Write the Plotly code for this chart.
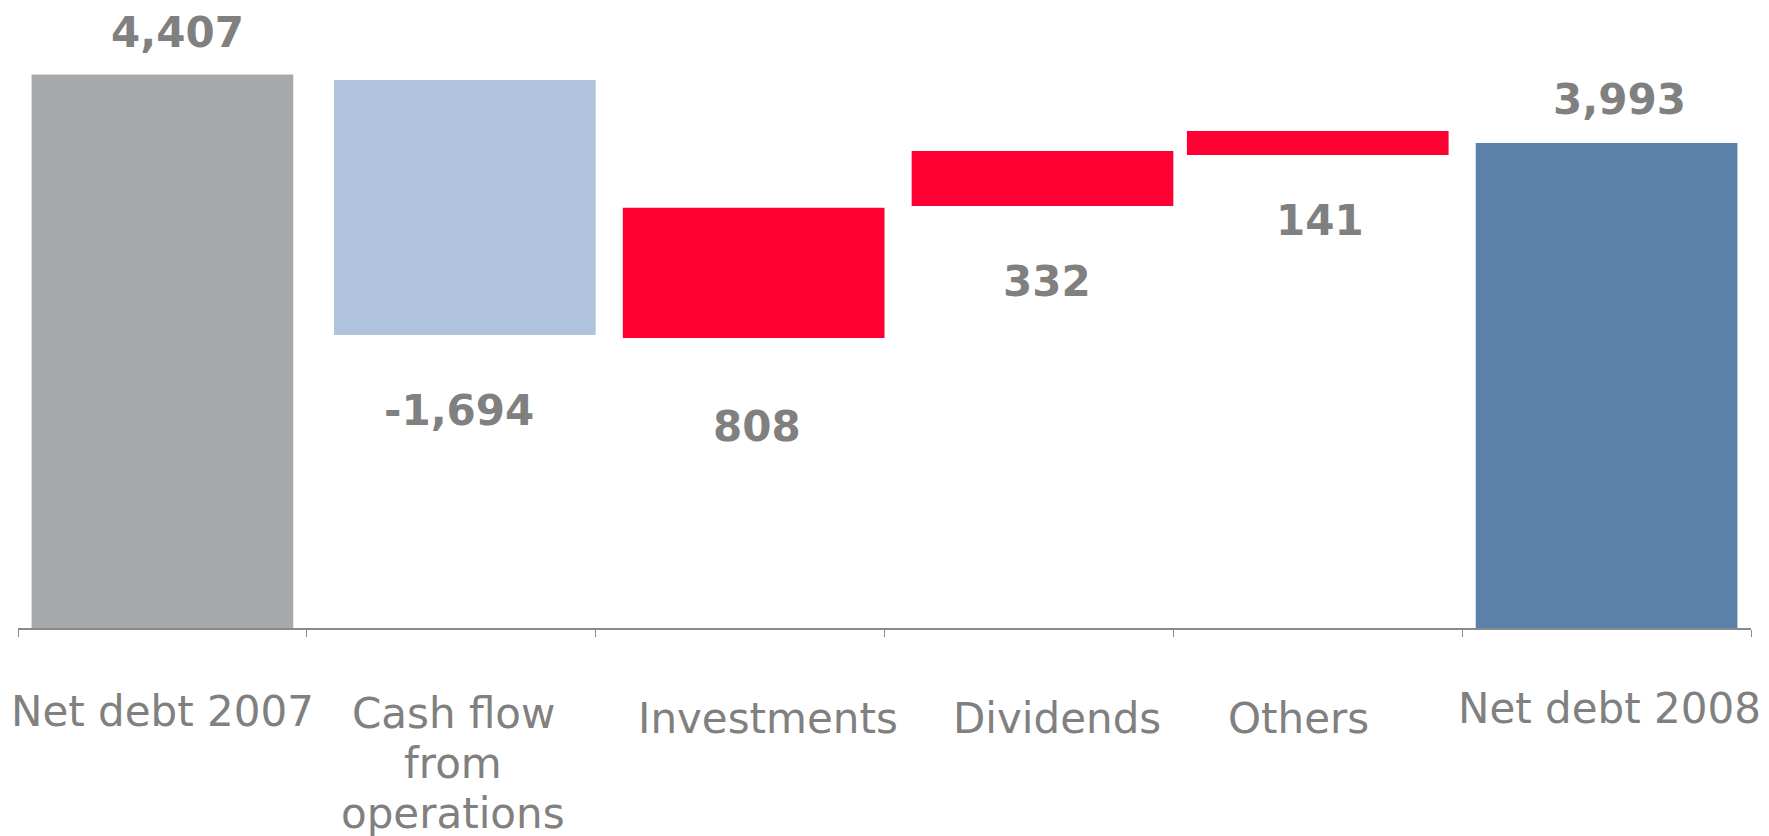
import plotly.graph_objects as go

categories = ["Net debt 2007", "Cash flow from operations", "Investments",
              "Dividends", "Others", "Net debt 2008"]
category_lines = [["Net debt 2007"], ["Cash flow", "from", "operations"], ["Investments"],
                  ["Dividends"], ["Others"], ["Net debt 2008"]]
# printed values
values = [4407, -1694, 808, 332, 141, 3993]
value_text = ["4,407", "-1,694", "808", "332", "141", "3,993"]
# bar extents as drawn in the picture (chart units)
bar_low = [1061, 2832, 2814, 3612, 3920, 1061]
bar_high = [4407, 4374, 3602, 3944, 4065, 3993]

# styling
colors = ["#A8A9AB", "#AFC4DC", "#FF0033", "#FF0033", "#FF0033", "#5B80A9"]
bar_width = 0.906
bar_offset = [-0.453, -0.406, -0.406, -0.406, -0.453, -0.453]
label_side = ["above", "below", "below", "below", "below", "above"]
label_dy = [42, -75, -88, -75, -65, 43]
label_dx = [15, 8, 17, 18, 2, 13]
cat_dy = [83, 85, 90, 90, 90, 80]   # px below axis of first line centre
cat_dx = [0, 2, 28, 28, -19, 3]
cat_line_gap = 50
text_grey = "#808080"

fig = go.Figure()
fig.add_trace(go.Bar(
    x=categories,
    y=[h - l for h, l in zip(bar_high, bar_low)],
    base=bar_low,
    width=[bar_width] * len(categories),
    offset=bar_offset,
    marker=dict(color=colors, line=dict(width=0)),
    hoverinfo="skip",
))

for c, t, lo, hi, side, dy, dx in zip(categories, value_text, bar_low, bar_high,
                                      label_side, label_dy, label_dx):
    fig.add_annotation(x=c, y=hi if side == "above" else lo,
                       text="<b>" + t + "</b>", showarrow=False,
                       yshift=dy, xshift=dx,
                       font=dict(family="DejaVu Sans", size=42, color=text_grey))

for c, lines, dy, dx in zip(categories, category_lines, cat_dy, cat_dx):
    for i, line in enumerate(lines):
        fig.add_annotation(x=c, xref="x", y=0, yref="paper", yanchor="middle",
                           text=line, showarrow=False,
                           yshift=-(dy + i * cat_line_gap), xshift=dx,
                           font=dict(family="DejaVu Sans", size=42, color=text_grey))

fig.update_layout(
    width=1753, height=828,
    margin=dict(l=10, r=10, t=0, b=208, autoexpand=False),
    paper_bgcolor="white", plot_bgcolor="white",
    showlegend=False,
    xaxis=dict(
        range=[-0.5, len(categories) - 0.5], autorange=False,
        showline=True, linecolor="#8A8A8A", linewidth=1.5,
        ticks="outside", ticklen=7, tickcolor="#8A8A8A", tickwidth=1,
        tickson="boundaries", showticklabels=False, automargin=False,
        showgrid=False,
    ),
    yaxis=dict(visible=False, range=[1061, 4809], autorange=False,
               showgrid=False, zeroline=False),
)

fig.write_html("out.html")
